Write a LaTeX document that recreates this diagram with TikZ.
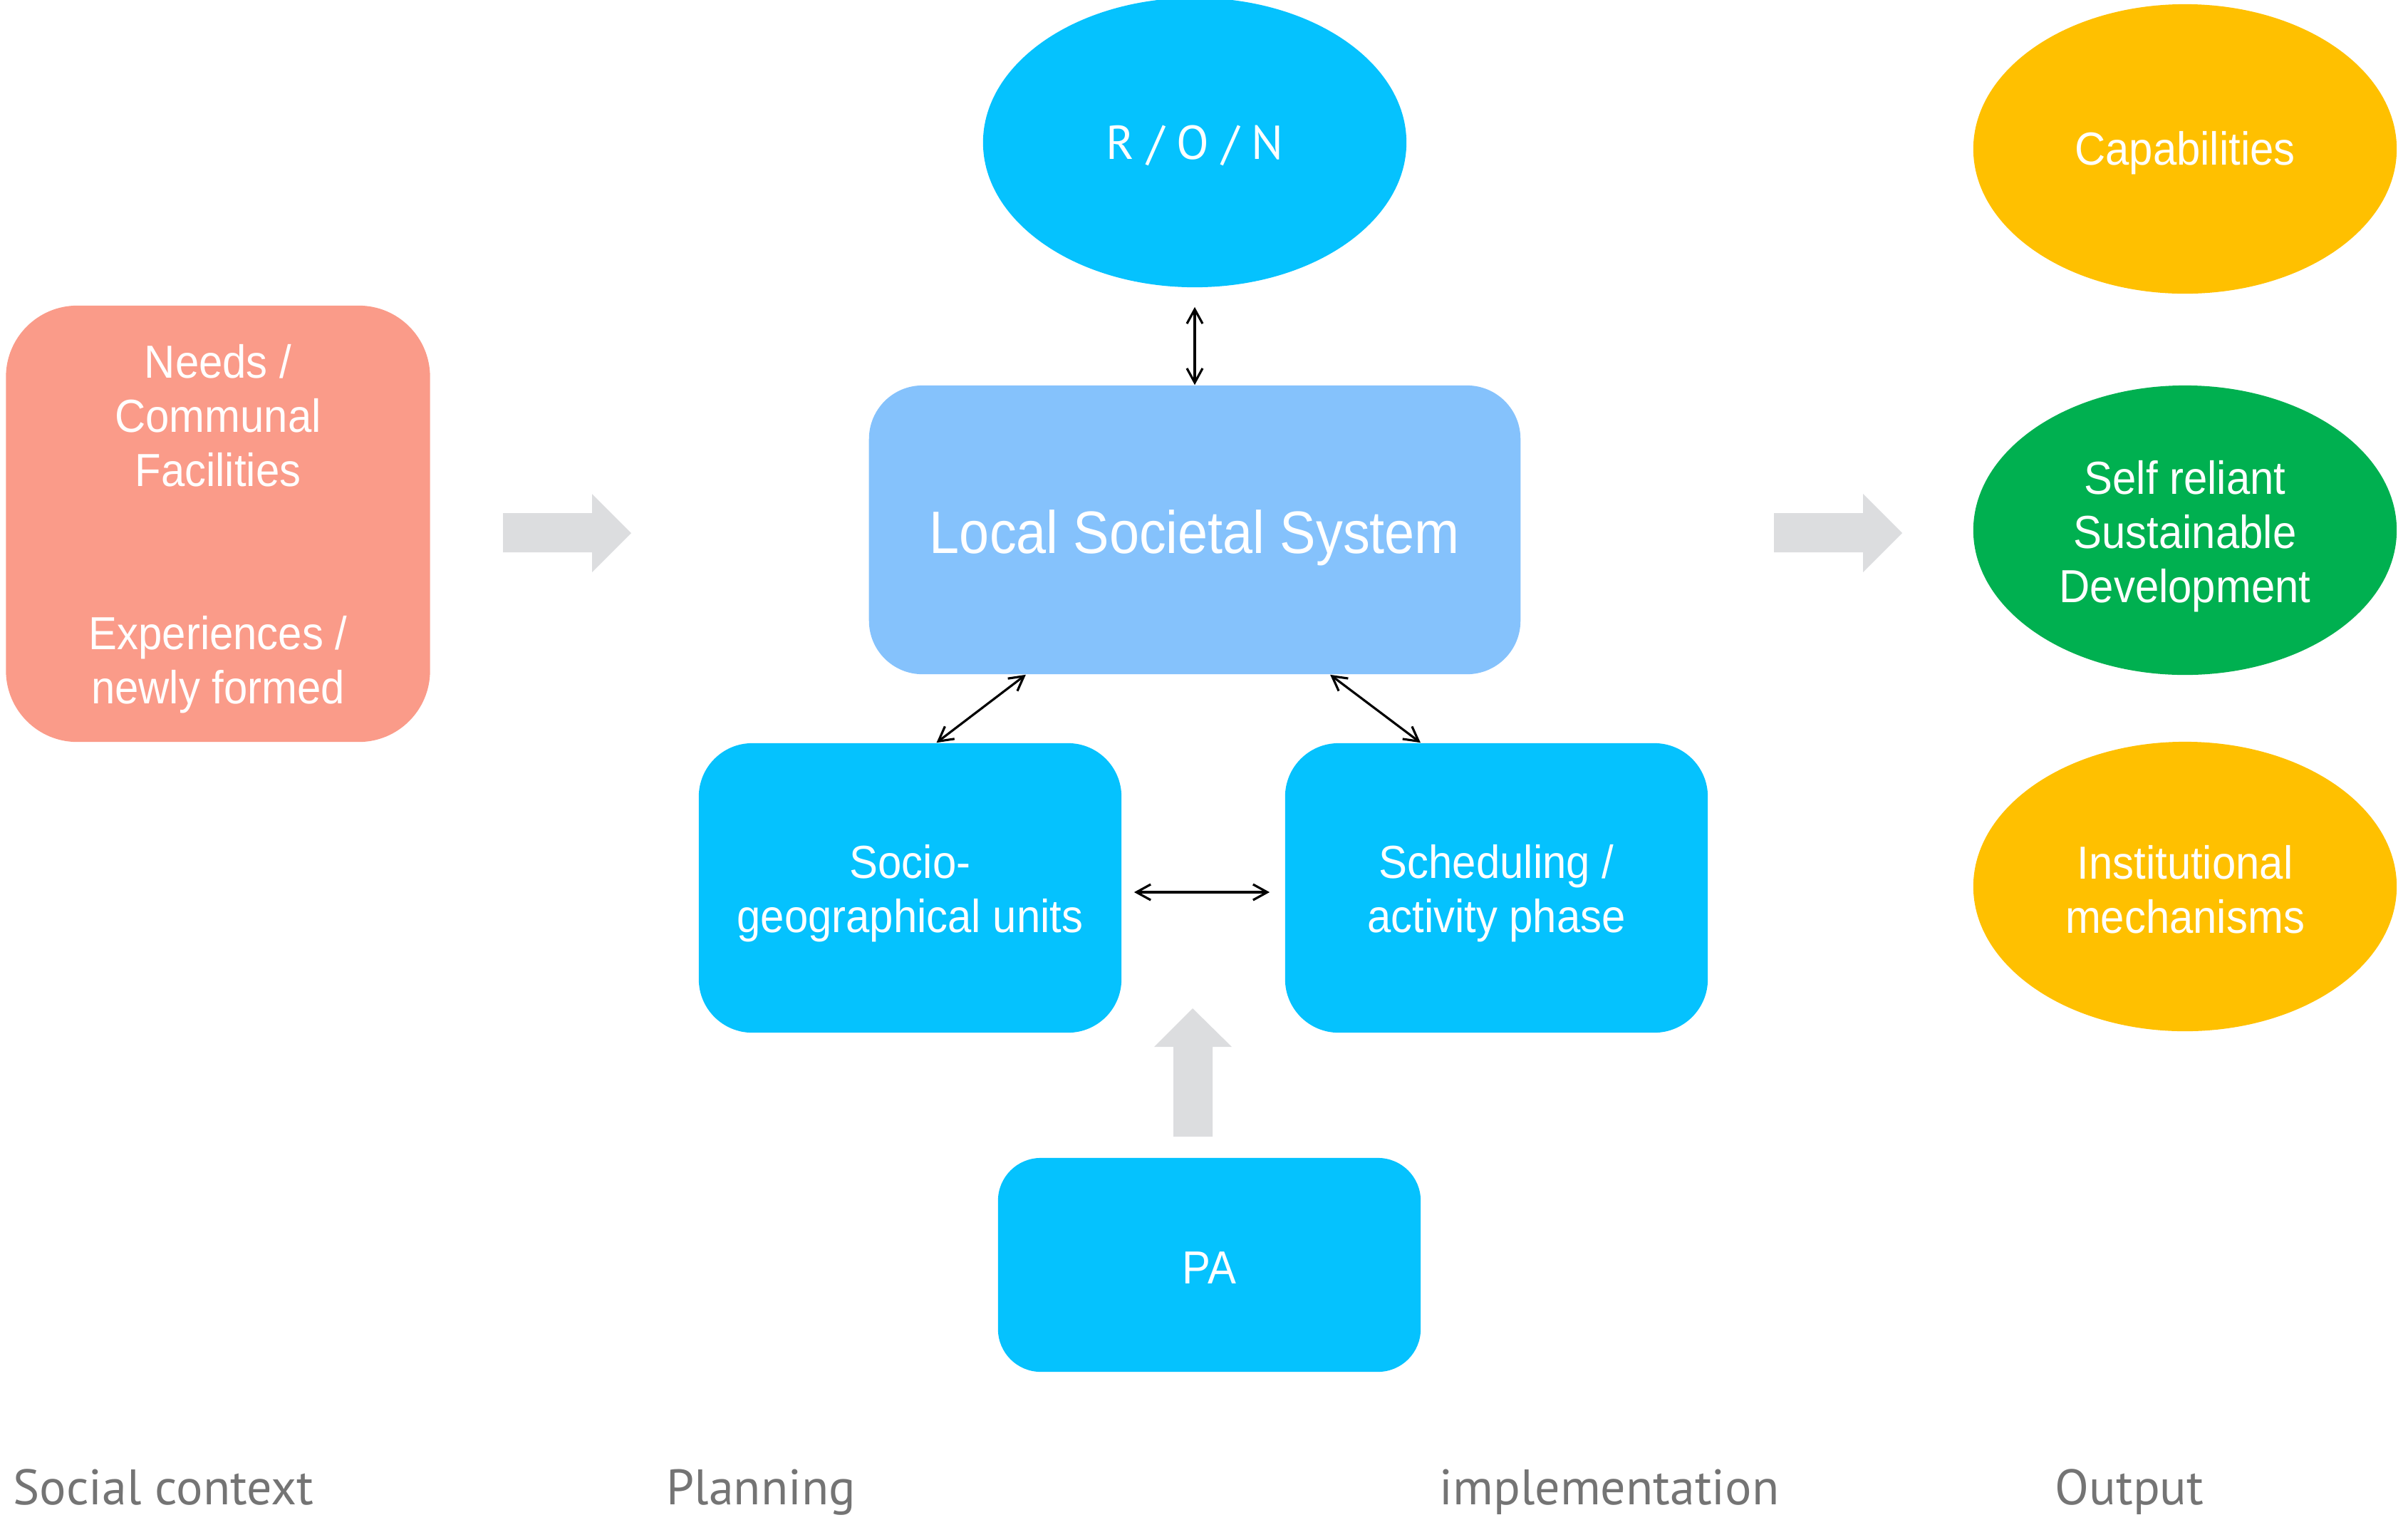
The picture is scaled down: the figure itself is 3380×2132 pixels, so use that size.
\documentclass[tikz,border=0pt]{standalone}
\usepackage{fontspec}
\setmainfont{Liberation Sans}[FakeStretch=0.92]
\newfontfamily\lssfont{Liberation Sans}[FakeStretch=0.9]
\newfontfamily\labfont{PT Sans}
\usetikzlibrary{shapes.geometric,arrows.meta}
\definecolor{salmon}{HTML}{FA9B89}
\definecolor{lssblue}{HTML}{85C2FC}
\definecolor{cyanb}{HTML}{05C2FE}
\definecolor{yellowo}{HTML}{FFC000}
\definecolor{greeno}{HTML}{00B050}
\definecolor{arrowgray}{HTML}{DCDDDF}
\definecolor{labgray}{HTML}{747474}
\tikzset{
  bodytext/.style={text=white, align=center, inner sep=0pt, font=\fontsize{18.5}{21.6}\selectfont},
  box/.style={rounded corners=0.75cm, minimum width=5.93cm, minimum height=4.06cm, inner sep=0pt},
  oval/.style={ellipse, minimum width=5.94cm, minimum height=4.06cm, inner sep=0pt},
  link/.style={<->, >={Straight Barb[length=0.2cm,width=0.22cm]}, line width=0.9pt, black},
  bigarrow/.style={fill=arrowgray},
  phase/.style={anchor=base west, text=labgray, inner sep=0pt, font=\labfont\fontsize{19.9}{22}\selectfont}
}
\begin{document}
\begin{tikzpicture}[x=0.01cm,y=-0.01cm]
\useasboundingbox (0,0) rectangle (3380,2132);
% boxes
\node[box, fill=salmon, rounded corners=1cm, minimum width=5.95cm, minimum height=6.12cm] (needs) at (306,735) {};
\node[bodytext] (needst) at ([yshift=-0.07cm]needs.center)
  {Needs /\\Communal\\Facilities\\[1.53cm]Experiences /\\newly formed};
\node[box, fill=lssblue, minimum width=9.14cm, minimum height=4.05cm] (lss) at (1677,743.5) {};
\node[bodytext, font=\lssfont\fontsize{23.9}{28}\selectfont] (lsst) at ([yshift=-0.11cm]lss.center) {Local Societal System};
\node[box, fill=cyanb] (socio) at (1277.5,1246) {};
\node[bodytext] (sociot) at ([yshift=-0.08cm]socio.center) {Socio-\\geographical units};
\node[box, fill=cyanb] (sched) at (2100.5,1246) {};
\node[bodytext] (schedt) at ([yshift=-0.08cm]sched.center) {Scheduling /\\activity phase};
\node[box, fill=cyanb, minimum height=3cm, rounded corners=0.6cm] (pa) at (1697.5,1775) {};
\node[bodytext] (pat) at ([yshift=-0.04cm]pa.center) {PA};
% ellipses
\node[oval, fill=cyanb] (ron) at (1677,200) {};
\node[bodytext, font=\labfont\fontsize{19}{22}\selectfont] (ront) at ([yshift=-0.04cm]ron.center) {R / O / N};
\node[oval, fill=yellowo] (cap) at (3067,209) {};
\node[bodytext] (capt) at ([yshift=-0.06cm]cap.center) {Capabilities};
\node[oval, fill=greeno] (self) at (3067,744) {};
\node[bodytext] (selft) at ([yshift=-0.09cm]self.center) {Self reliant\\Sustainable\\Development};
\node[oval, fill=yellowo] (inst) at (3067,1244) {};
\node[bodytext] (instt) at ([yshift=-0.04cm]inst.center) {Institutional\\mechanisms};
% connectors
\draw[link, shorten <=0.27cm] (ron.south) -- (lss.north);
\draw[link] ([xshift=-2.37cm]lss.south) -- ([xshift=0.37cm]socio.north);
\draw[link] ([xshift=1.9cm]lss.south) -- ([xshift=-1.065cm]sched.north);
\draw[link, shorten <=0.17cm, shorten >=0.21cm] ([yshift=-0.06cm]socio.east) -- ([yshift=-0.06cm]sched.west);
% big grey arrows
\fill[bigarrow] (706,720) -- (831,720) -- (831,693) -- (886,748) -- (831,803) -- (831,775) -- (706,775) -- cycle;
\fill[bigarrow] (2490,720) -- (2615,720) -- (2615,693) -- (2670,748) -- (2615,803) -- (2615,775) -- (2490,775) -- cycle;
\fill[bigarrow] (1647,1595) -- (1647,1469) -- (1620,1469) -- (1674,1415) -- (1729,1469) -- (1702,1469) -- (1702,1595) -- cycle;
% phase labels
\node[phase] (l1) at (18,2111) {Social context};
\node[phase] (l2) at (935,2111) {Planning};
\node[phase] (l3) at (2020,2111) {implementation};
\node[phase] (l4) at (2884,2111) {Output};
\end{tikzpicture}
\end{document}
